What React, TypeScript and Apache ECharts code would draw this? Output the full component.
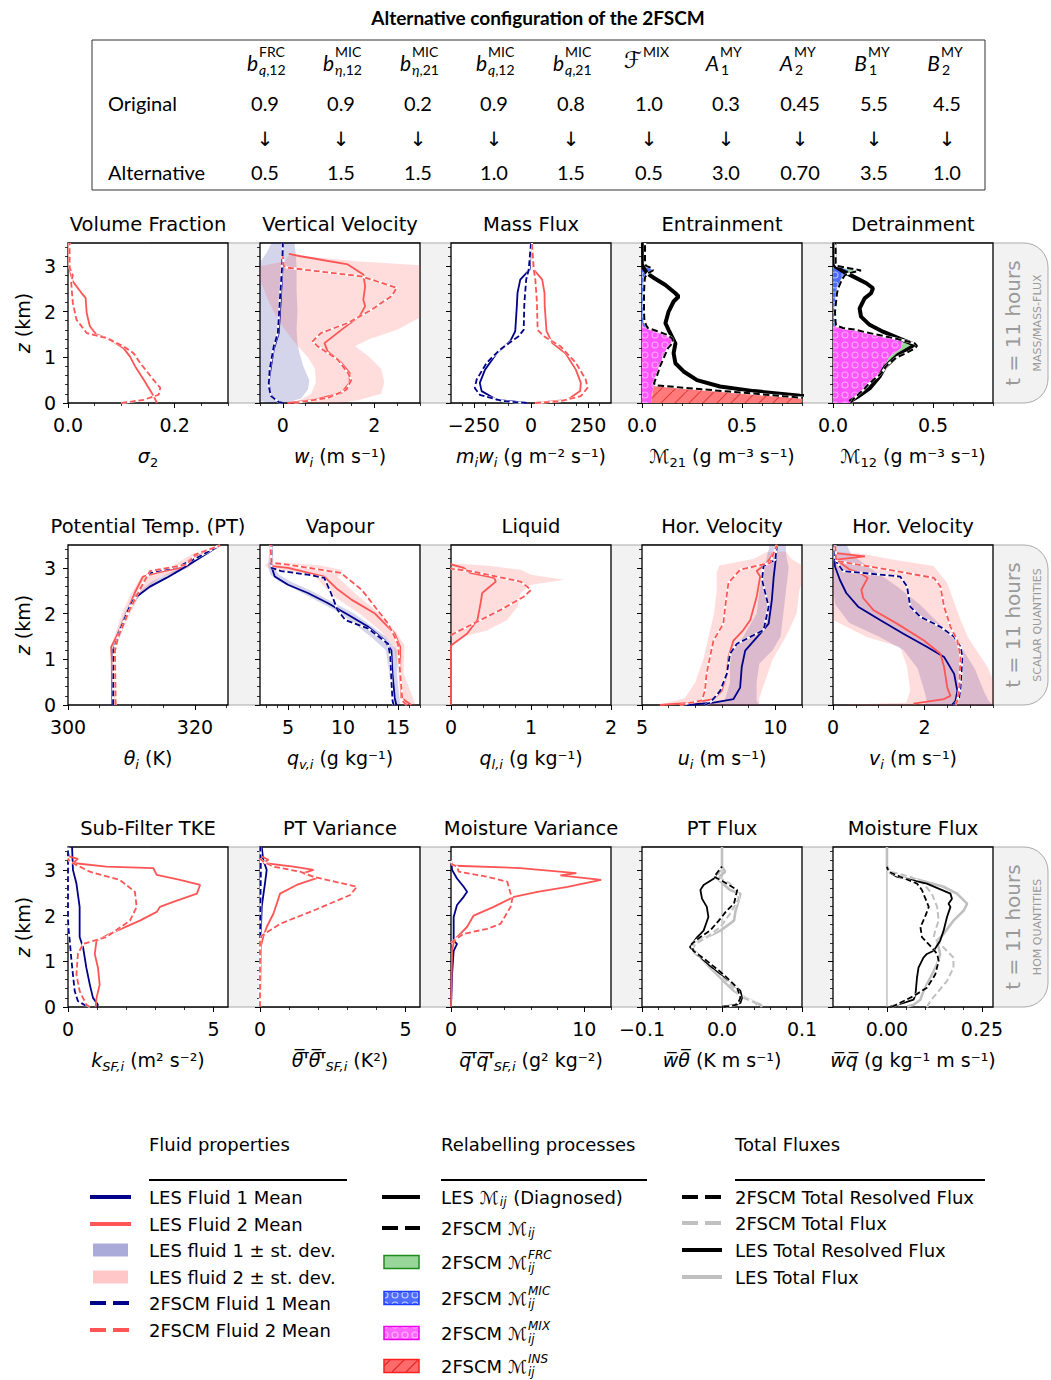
import React, { useEffect, useRef } from 'react';
import * as echarts from 'echarts';

type Pt = [number, number]; // [value, height (km)]
type Band = [number, number, number]; // [height (km), low, high]

const FONT = '"DejaVu Sans", sans-serif';
const LATO = 'Lato, "DejaVu Sans", sans-serif';
const NAVY = '#00008b';
const RED = '#ff5555';
const BAND1 = 'rgba(0, 0, 139, 0.17)';
const BAND2 = 'rgba(255, 85, 85, 0.2)';
const GREY = '#c0c0c0';

// ---------------- parameter table ----------------
const paramBase = ['b', 'b', 'b', 'b', 'b', 'ℱ', 'A', 'A', 'B', 'B'];
const paramSup = ['FRC', 'MIC', 'MIC', 'MIC', 'MIC', 'MIX', 'MY', 'MY', 'MY', 'MY'];
const paramSubVar = ['q', 'η', 'η', 'q', 'q', '', '', '', '', ''];
const paramSubIdx = [',12', ',12', ',21', ',12', ',21', '', '1', '2', '1', '2'];
const originalValues = ['0.9', '0.9', '0.2', '0.9', '0.8', '1.0', '0.3', '0.45', '5.5', '4.5'];
const alternativeValues = ['0.5', '1.5', '1.5', '1.0', '1.5', '0.5', '3.0', '0.70', '3.5', '1.0'];

// ---------------- shared height ticks ----------------
const zTicks = [0, 1, 2, 3];

// ---------------- volume fraction ----------------
const sigmaTicks = [0, 0.2];
const sigma2Les: Pt[] = [[0.167, 0], [0.164, 0.07], [0.157, 0.22], [0.142, 0.51], [0.126, 0.8], [0.116, 1.02], [0.104, 1.2], [0.079, 1.39], [0.053, 1.5], [0.041, 1.68], [0.035, 1.97], [0.033, 2.3], [0.025, 2.41], [0.009, 2.66], [0.003, 2.92], [0.001, 3.43], [0.001, 3.5]];
const sigma2Scm: Pt[] = [[0.1, 0], [0.142, 0.07], [0.17, 0.18], [0.173, 0.33], [0.16, 0.51], [0.135, 0.88], [0.123, 1.09], [0.104, 1.24], [0.072, 1.42], [0.035, 1.53], [0.016, 1.82], [0.009, 2.19], [0.006, 2.63], [0.009, 2.8], [0.003, 2.96], [0.003, 3.43], [0.003, 3.5]];

// ---------------- vertical velocity ----------------
const wTicks = [0, 2];
const wLes1: Pt[] = [[0, 0], [-0.13, 0.04], [-0.27, 0.18], [-0.31, 0.44], [-0.27, 0.73], [-0.2, 1.17], [-0.09, 1.53], [-0.05, 2.19], [-0.01, 2.92], [0, 3.43], [0, 3.5]];
const wScm1: Pt[] = [[0, 0], [-0.09, 0.02], [-0.26, 0.15], [-0.31, 0.37], [-0.29, 0.73], [-0.2, 1.24], [-0.11, 1.53], [-0.07, 2.19], [-0.02, 2.92], [0, 3.43], [0, 3.5]];
const wLes2: Pt[] = [[0.1, 0], [0.69, 0.07], [1.28, 0.22], [1.46, 0.44], [1.46, 0.66], [1.28, 0.88], [0.98, 1.13], [0.91, 1.31], [1.28, 1.6], [1.68, 1.9], [1.8, 2.12], [1.76, 2.26], [1.8, 2.55], [1.76, 2.81], [1.42, 3.03], [0.39, 3.21], [0.13, 3.26]];
const wScm2: Pt[] = [[0.24, 0], [0.98, 0.11], [1.39, 0.29], [1.5, 0.51], [1.42, 0.66], [1.2, 0.95], [0.76, 1.24], [0.65, 1.35], [0.83, 1.53], [1.42, 1.75], [1.94, 2.04], [2.38, 2.34], [2.49, 2.52], [1.72, 2.77], [0.1, 2.96], [0.02, 3.0], [0, 3.21]];
const wBand1: Band[] = [[0, -0.3, 0.05], [0.1, -0.7, 0.4], [0.3, -0.85, 0.55], [0.5, -0.9, 0.58], [0.8, -0.85, 0.45], [1.1, -0.8, 0.36], [1.3, -0.75, 0.32], [1.6, -0.7, 0.3], [2.0, -0.65, 0.32], [2.5, -0.6, 0.3], [3.0, -0.55, 0.3], [3.3, -0.35, 0.28], [3.5, -0.25, 0.25]];
const wBand2: Band[] = [[0, 0.05, 1.2], [0.05, 0.35, 1.6], [0.2, 0.62, 2.15], [0.45, 0.72, 2.22], [0.75, 0.7, 2.15], [1.0, 0.55, 1.9], [1.24, 0.33, 1.58], [1.4, 0.2, 1.9], [1.6, 0.05, 2.5], [1.9, -0.15, 3.05], [2.2, -0.3, 3.5], [2.5, -0.42, 3.6], [2.7, -0.5, 3.6], [2.98, -0.55, 3.6], [3.1, 0.05, 1.6], [3.22, 0.12, 0.4]];

// ---------------- mass flux ----------------
const mfTicks = [-250, 0, 250];
const mfLes1: Pt[] = [[-18, 0], [-150, 0.07], [-216, 0.26], [-224, 0.44], [-201, 0.73], [-150, 1.09], [-91, 1.35], [-69, 1.57], [-62, 2.12], [-59, 2.41], [-47, 2.7], [-6, 2.92], [0, 3.43]];
const mfScm1: Pt[] = [[-18, 0], [-121, 0.04], [-224, 0.18], [-246, 0.33], [-238, 0.51], [-194, 0.88], [-135, 1.17], [-54, 1.46], [-32, 1.6], [-29, 2.19], [-21, 2.7], [-10, 2.92], [0, 3.5]];
const mfLes2: Pt[] = [[19, 0], [159, 0.07], [215, 0.26], [218, 0.44], [196, 0.73], [151, 1.09], [93, 1.31], [68, 1.57], [60, 2.12], [59, 2.41], [49, 2.7], [12, 2.92], [4, 3.43]];
const mfScm2: Pt[] = [[19, 0], [129, 0.04], [218, 0.15], [247, 0.33], [240, 0.51], [196, 0.88], [129, 1.24], [56, 1.46], [29, 1.6], [26, 2.19], [19, 2.7], [12, 2.92], [4, 3.5]];

// ---------------- entrainment (fluid 2 -> 1) ----------------
const mTicks = [0, 0.5];
const entZ = [0, 0.05, 0.1, 0.15, 0.2, 0.25, 0.3, 0.35, 0.39, 0.43, 0.5, 0.6, 0.7, 0.8, 0.9, 1.0, 1.1, 1.2, 1.3, 1.35, 1.42, 1.5, 1.58, 1.64, 1.68, 1.8, 2.0, 2.2, 2.4, 2.6, 2.75, 2.84, 2.9, 2.95, 3.0, 3.05, 3.1, 3.3, 3.5];
const entMix = [0.045, 0.047, 0.05, 0.051, 0.052, 0.053, 0.055, 0.057, 0.058, 0.06, 0.066, 0.075, 0.083, 0.09, 0.1, 0.11, 0.12, 0.13, 0.15, 0.155, 0.15, 0.12, 0.07, 0.02, 0.005, 0, 0, 0, 0, 0, 0, 0, 0, 0, 0, 0.01, 0.015, 0.015, 0.015];
const entIns = [1.07, 0.93, 0.79, 0.655, 0.52, 0.383, 0.246, 0.11, 0.008, 0, 0, 0, 0, 0, 0, 0, 0, 0, 0, 0, 0, 0, 0, 0, 0, 0, 0, 0, 0, 0, 0, 0, 0, 0, 0, 0, 0, 0, 0];
const entMic = [0, 0, 0, 0, 0, 0, 0, 0, 0, 0, 0, 0, 0, 0, 0, 0, 0, 0, 0, 0, 0, 0, 0, 0.01, 0.018, 0.012, 0.01, 0.01, 0.01, 0.012, 0.015, 0.03, 0.055, 0.05, 0.02, 0.005, 0, 0, 0];
const entFrc = entZ.map(() => 0);
const entLes: Pt[] = [[1.6, 0], [1.2, 0.06], [0.79, 0.16], [0.56, 0.26], [0.39, 0.36], [0.275, 0.5], [0.208, 0.69], [0.167, 0.87], [0.158, 1.09], [0.167, 1.3], [0.133, 1.6], [0.117, 1.745], [0.133, 2.0], [0.158, 2.22], [0.183, 2.33], [0.167, 2.4], [0.117, 2.58], [0.058, 2.74], [0.025, 2.84], [0.008, 2.95], [0.005, 3.46], [0.005, 3.5]];

// ---------------- detrainment (fluid 1 -> 2) ----------------
const detZ = [0, 0.05, 0.1, 0.2, 0.3, 0.4, 0.5, 0.6, 0.7, 0.8, 0.85, 0.9, 1.0, 1.1, 1.2, 1.25, 1.3, 1.35, 1.45, 1.55, 1.6, 1.64, 1.7, 1.8, 2.0, 2.2, 2.4, 2.5, 2.6, 2.7, 2.8, 2.85, 2.9, 2.95, 3.0, 3.05, 3.1, 3.3, 3.5];
const detMix = [0.09, 0.097, 0.105, 0.13, 0.155, 0.175, 0.2, 0.23, 0.25, 0.26, 0.26, 0.27, 0.28, 0.31, 0.34, 0.34, 0.35, 0.34, 0.27, 0.16, 0.117, 0.04, 0, 0, 0, 0, 0, 0, 0, 0, 0, 0, 0, 0, 0, 0, 0, 0, 0];
const detIns = detZ.map(() => 0);
const detMic = [0, 0, 0, 0, 0, 0, 0, 0, 0, 0, 0, 0, 0, 0, 0, 0, 0, 0, 0, 0, 0, 0.01, 0.015, 0.012, 0.01, 0.015, 0.02, 0.025, 0.035, 0.045, 0.06, 0.07, 0.08, 0.05, 0.02, 0.013, 0.013, 0.013, 0.013];
const detFrc = [0, 0, 0, 0, 0, 0, 0, 0, 0, 0.005, 0.015, 0.02, 0.04, 0.06, 0.07, 0.08, 0.06, 0.03, 0, 0, 0, 0, 0, 0, 0, 0, 0, 0, 0, 0, 0, 0.02, 0.06, 0.03, 0, 0, 0, 0, 0];
const detLes: Pt[] = [[0.083, 0.03], [0.125, 0.14], [0.183, 0.32], [0.233, 0.58], [0.26, 0.79], [0.325, 1.05], [0.383, 1.2], [0.41, 1.27], [0.333, 1.41], [0.25, 1.56], [0.183, 1.71], [0.14, 1.89], [0.133, 2.07], [0.158, 2.29], [0.19, 2.4], [0.2, 2.51], [0.167, 2.62], [0.1, 2.77], [0.05, 2.88], [0.01, 2.99], [0.008, 3.46], [0.008, 3.5]];

// ---------------- potential temperature ----------------
const thTicks = [300, 320];
const thLes1: Pt[] = [[307.0, 0], [307.0, 0.68], [307.1, 1.19], [307.9, 1.49], [309.2, 2.0], [310.8, 2.37], [312.9, 2.59], [315.5, 2.78], [318.2, 3.0], [320.8, 3.22], [323.9, 3.49]];
const thLes2: Pt[] = [[307.3, 0], [307.1, 0.6], [306.8, 1.27], [307.6, 1.49], [309.2, 2.0], [310.5, 2.45], [311.8, 2.81], [313.9, 2.89], [317.6, 3.0], [320.0, 3.26], [323.9, 3.49]];
const thScm1: Pt[] = [[307.1, 0], [307.2, 1.19], [308.2, 1.64], [309.7, 2.15], [311.3, 2.52], [312.4, 2.81], [312.9, 2.89], [317.6, 3.04], [320.3, 3.22], [323.9, 3.49]];
const thScm2: Pt[] = [[307.5, 0], [307.4, 1.19], [307.9, 1.49], [309.7, 2.08], [311.3, 2.52], [312.9, 2.93], [318.7, 3.07], [320.0, 3.29], [323.9, 3.49]];
const thBand1: Band[] = [[0, 306.85, 307.15], [1.2, 306.9, 307.3], [1.5, 307.6, 308.2], [2.0, 308.9, 309.5], [2.4, 310.5, 311.3], [2.7, 313.2, 314.6], [3.0, 317.6, 318.8], [3.3, 321.0, 321.8], [3.5, 323.6, 324.2]];
const thBand2: Band[] = [[0, 306.9, 307.7], [1.2, 306.6, 307.4], [1.5, 307.3, 308.2], [2.0, 308.5, 309.8], [2.4, 309.8, 311.3], [2.8, 311.5, 314.5], [3.0, 316.0, 319.0], [3.3, 319.5, 321.0], [3.5, 323.5, 324.3]];

// ---------------- vapour ----------------
const qvTicks = [5, 10, 15];
const qvLes1: Pt[] = [[14.85, 0], [14.7, 0.16], [14.5, 0.68], [14.4, 1.19], [13.8, 1.41], [12.3, 1.71], [10.5, 1.97], [8.6, 2.23], [6.8, 2.45], [5.0, 2.63], [3.79, 2.81], [3.48, 3.04], [3.48, 3.5]];
const qvScm1: Pt[] = [[14.6, 0], [14.5, 0.1], [14.4, 0.53], [14.3, 1.05], [14.1, 1.34], [12.3, 1.67], [10.2, 1.86], [9.5, 2.08], [8.9, 2.45], [8.3, 2.78], [6.8, 2.85], [4.4, 2.93], [3.48, 3.0], [3.48, 3.5]];
const qvLes2: Pt[] = [[16.2, 0], [15.3, 0.16], [15.2, 0.68], [15.2, 1.27], [14.7, 1.56], [12.9, 2.0], [10.8, 2.3], [9.5, 2.53], [8.3, 2.81], [5.0, 3.0], [3.5, 3.04], [3.4, 3.5]];
const qvScm2: Pt[] = [[15.8, 0], [15.4, 0.09], [15.2, 0.68], [15.0, 1.34], [14.1, 1.78], [12.9, 2.15], [11.7, 2.52], [9.8, 2.89], [5.0, 3.07], [3.5, 3.11], [3.4, 3.5]];
const qvBand1: Band[] = [[0, 14.6, 15.2], [0.7, 14.2, 14.9], [1.2, 13.9, 14.9], [1.5, 12.5, 13.9], [2.0, 9.8, 11.0], [2.5, 5.9, 7.1], [2.7, 4.2, 5.2], [2.85, 3.4, 4.2], [3.0, 3.2, 3.7], [3.5, 3.3, 3.6]];
const qvBand2: Band[] = [[0, 15.6, 16.6], [0.7, 15.0, 15.5], [1.3, 14.6, 15.6], [1.6, 13.5, 14.8], [2.0, 11.5, 13.3], [2.4, 9.0, 11.3], [2.8, 7.5, 9.5], [2.95, 3.5, 10.0], [3.05, 2.9, 8.0], [3.12, 3.2, 4.5]];

// ---------------- liquid ----------------
const qlTicks = [0, 1, 2];
const qlLes2: Pt[] = [[0, 0], [0, 1.3], [0.03, 1.34], [0.2, 1.56], [0.33, 1.86], [0.37, 2.23], [0.39, 2.45], [0.56, 2.7], [0.54, 2.78], [0.24, 2.89], [0.16, 3.0], [0.01, 3.07], [0, 3.1]];
const qlScm2: Pt[] = [[0, 1.52], [0.03, 1.56], [0.28, 1.78], [0.62, 2.08], [0.91, 2.37], [1.0, 2.52], [0.87, 2.7], [0.24, 2.93], [0.01, 2.98], [0, 3.0]];
const qlBand2: Band[] = [[1.34, 0, 0.02], [1.5, 0, 0.15], [1.63, 0, 0.45], [1.86, 0, 0.7], [2.15, 0, 0.83], [2.45, 0, 0.87], [2.63, 0, 1.0], [2.74, 0, 1.42], [2.85, 0, 1.0], [2.96, 0, 0.87], [3.04, 0, 0.5], [3.1, 0, 0.02]];

// ---------------- horizontal velocity u ----------------
const uTicks = [5, 10];
const uLes1: Pt[] = [[6.67, 0], [7.68, 0.05], [8.43, 0.13], [8.68, 0.38], [8.74, 0.83], [8.87, 1.19], [9.43, 1.56], [9.75, 1.78], [9.87, 2.3], [9.94, 2.81], [10.0, 3.11], [10.06, 3.5]];
const uScm1: Pt[] = [[7.36, 0], [7.55, 0.05], [7.93, 0.31], [8.18, 0.68], [8.3, 1.12], [8.56, 1.34], [9.06, 1.49], [9.56, 1.64], [9.75, 2.15], [9.5, 2.74], [9.56, 3.04], [10.0, 3.18], [10.06, 3.5]];
const uLes2: Pt[] = [[5.67, 0], [6.92, 0.05], [7.68, 0.13], [7.99, 0.31], [8.18, 0.68], [8.24, 1.05], [8.43, 1.41], [8.8, 1.64], [9.06, 1.86], [9.3, 2.37], [9.43, 2.81], [9.3, 2.93], [9.69, 3.11], [9.94, 3.33], [10.06, 3.5]];
const uScm2: Pt[] = [[6.42, 0], [7.24, 0.1], [7.36, 0.31], [7.42, 0.68], [7.55, 1.05], [7.68, 1.41], [8.05, 1.78], [8.12, 2.15], [8.24, 2.67], [8.68, 2.96], [9.81, 3.11], [9.94, 3.33], [10.06, 3.5]];
const uBand1: Band[] = [[0, 7.2, 9.4], [0.1, 8.1, 9.3], [0.5, 8.3, 9.3], [0.9, 8.3, 9.4], [1.2, 8.4, 9.9], [1.5, 8.8, 10.2], [2.0, 9.3, 10.3], [2.5, 9.4, 10.4], [3.0, 9.6, 10.5], [3.3, 9.7, 10.4], [3.5, 9.8, 10.4]];
const uBand2: Band[] = [[0, 5.6, 9.4], [0.15, 6.6, 9.4], [0.5, 7.0, 9.6], [1.0, 7.3, 9.9], [1.5, 7.5, 10.4], [2.0, 7.7, 10.8], [2.5, 7.8, 10.9], [2.9, 7.8, 11.1], [3.05, 7.9, 11.0], [3.2, 9.2, 10.6], [3.35, 9.7, 10.4]];

// ---------------- horizontal velocity v ----------------
const vTicks = [0, 2];
const vLes1: Pt[] = [[2.61, 0.01], [2.68, 0.09], [2.72, 0.31], [2.65, 0.68], [2.43, 1.05], [2.06, 1.27], [1.54, 1.56], [1.03, 1.86], [0.55, 2.15], [0.29, 2.45], [0.15, 2.74], [0.04, 3.04], [0.04, 3.5]];
const vLes2: Pt[] = [[1.76, 0.03], [2.43, 0.13], [2.57, 0.2], [2.5, 0.38], [2.43, 0.83], [2.35, 1.12], [1.99, 1.41], [1.4, 1.78], [0.88, 2.08], [0.66, 2.34], [0.62, 2.52], [0.76, 2.78], [0.6, 2.88], [0.37, 2.96], [0.07, 3.18], [0.7, 3.25], [0.05, 3.32]];
const vScm1: Pt[] = [[2.65, 0], [2.76, 0.16], [2.79, 0.38], [2.83, 1.05], [2.79, 1.27], [2.65, 1.49], [2.35, 1.71], [1.91, 1.93], [1.69, 2.15], [1.62, 2.59], [1.47, 2.81], [0.22, 2.93], [0.04, 3.18], [0.03, 3.5]];
const vScm2: Pt[] = [[2.68, 0], [2.72, 0.09], [2.76, 0.38], [2.79, 1.05], [2.72, 1.41], [2.57, 1.71], [2.43, 2.15], [2.35, 2.59], [2.21, 2.78], [0.74, 3.04], [0.07, 3.15], [0.05, 3.5]];
const vBand1: Band[] = [[0, 2.0, 3.5], [0.1, 2.05, 3.4], [0.3, 2.0, 3.3], [0.8, 1.85, 3.1], [1.2, 1.55, 2.85], [1.5, 1.0, 2.6], [1.8, 0.35, 2.3], [2.2, 0.05, 1.9], [2.6, 0, 1.4], [3.0, 0, 0.8], [3.3, 0, 0.4], [3.5, 0, 0.3]];
const vBand2: Band[] = [[0, 0, 3.6], [0.05, 1.6, 3.6], [0.31, 1.69, 3.6], [0.83, 1.62, 3.38], [1.27, 1.47, 3.09], [1.49, 0.74, 2.95], [1.86, 0, 2.79], [2.67, 0, 2.5], [3.04, 0, 2.2], [3.2, 0, 1.2], [3.3, 0, 0.7], [3.35, 0, 0.1]];

// ---------------- sub-filter TKE ----------------
const tkeTicks = [0, 5];
const tkeLes1: Pt[] = [[0.98, 0], [1.03, 0.05], [0.86, 0.2], [0.75, 0.49], [0.63, 0.86], [0.52, 1.3], [0.4, 1.53], [0.4, 2.19], [0.29, 2.7], [0.17, 3.0], [0.14, 3.5]];
const tkeScm1: Pt[] = [[0.63, 0.02], [0.34, 0.13], [0.23, 0.35], [0.17, 0.71], [0.11, 1.08], [0.06, 1.45], [0.02, 1.7], [0, 1.9], [0, 3.5]];
const tkeLes2: Pt[] = [[0.95, 0], [0.98, 0.2], [1.09, 0.49], [1.03, 0.86], [0.92, 1.16], [0.98, 1.45], [1.44, 1.6], [2.47, 1.89], [3.05, 2.08], [3.16, 2.19], [3.62, 2.3], [4.43, 2.48], [4.54, 2.67], [3.85, 2.78], [3.05, 2.89], [2.93, 3.04], [1.32, 3.07], [0.17, 3.15], [0.34, 3.24], [0.06, 3.29], [0.02, 3.35]];
const tkeScm2: Pt[] = [[0.75, 0], [0.63, 0.05], [0.4, 0.35], [0.29, 0.71], [0.34, 1.16], [0.52, 1.38], [1.32, 1.53], [2.13, 1.89], [2.36, 2.19], [2.3, 2.52], [1.78, 2.78], [0.75, 2.96], [0.06, 3.18], [0, 3.25]];

// ---------------- PT variance ----------------
const tvTicks = [0, 5];
const tvLes1: Pt[] = [[0, 0], [0.02, 1.5], [0.06, 2.2], [0.17, 2.7], [0.23, 3.0], [0.11, 3.22], [0.06, 3.5]];
const tvScm1: Pt[] = [[0, 0], [0.01, 2.0], [0.03, 3.0], [0.01, 3.5]];
const tvLes2: Pt[] = [[0, 0], [0.02, 1.3], [0.11, 1.53], [0.23, 1.75], [0.46, 2.04], [0.69, 2.48], [1.26, 2.67], [1.95, 2.82], [1.49, 2.93], [1.84, 3.0], [1.15, 3.07], [0.11, 3.15], [0.29, 3.22], [0.06, 3.29], [0.02, 3.32]];
const tvScm2: Pt[] = [[0, 0], [0, 1.45], [0.06, 1.56], [0.69, 1.82], [1.84, 2.11], [3.1, 2.45], [3.33, 2.63], [1.84, 2.85], [1.38, 2.96], [0.46, 3.07], [0.11, 3.18], [0, 3.25]];

// ---------------- moisture variance ----------------
const mvTicks = [0, 10];
const mvLes1: Pt[] = [[0, 0], [0.08, 0.71], [0.2, 1.23], [0.45, 1.38], [0.2, 1.45], [0.2, 1.67], [0.2, 1.97], [0.45, 2.23], [0.95, 2.41], [1.21, 2.52], [0.95, 2.63], [0.45, 2.81], [0.08, 3.0], [0.02, 3.2]];
const mvLes2: Pt[] = [[0, 0], [0.08, 1.23], [0.2, 1.4], [0.45, 1.53], [1.2, 1.75], [1.7, 2.0], [3.2, 2.19], [4.72, 2.41], [6.48, 2.52], [8.74, 2.63], [11.26, 2.78], [8.2, 2.88], [9.4, 2.93], [5.2, 3.04], [0.3, 3.09], [0.08, 3.11], [0, 3.2]];
const mvScm2: Pt[] = [[0, 1.4], [0.2, 1.45], [0.95, 1.6], [2.71, 1.71], [3.72, 1.82], [4.47, 2.19], [4.6, 2.37], [4.47, 2.48], [4.22, 2.74], [2.71, 2.85], [0.58, 2.96], [0.45, 3.07], [0.08, 3.12], [0, 3.2]];

// ---------------- PT flux ----------------
const wtTicks = [-0.1, 0, 0.1];
const fluxZero: Pt[] = [[0, 0], [0, 3.5]];
const wtLesTot: Pt[] = [[0.05, 0], [0.048, 0.05], [0.029, 0.2], [0.015, 0.35], [0.002, 0.57], [-0.015, 0.86], [-0.031, 1.16], [-0.04, 1.31], [-0.031, 1.45], [-0.019, 1.53], [-0.002, 1.67], [0.015, 1.89], [0.017, 2.11], [0.021, 2.34], [0.023, 2.48], [0.01, 2.56], [-0.006, 2.81], [0.004, 2.96], [0, 3.07], [0, 3.5]];
const wtScmTot: Pt[] = [[0.044, 0.05], [0.04, 0.11], [0.027, 0.2], [0.015, 0.42], [-0.002, 0.71], [-0.023, 1.01], [-0.038, 1.23], [-0.033, 1.38], [-0.019, 1.53], [-0.002, 1.75], [0.01, 2.04], [0.021, 2.37], [0.019, 2.52], [0.01, 2.7], [-0.006, 2.85], [0, 3.07]];
const wtLesRes: Pt[] = [[0, 0.01], [0.015, 0.04], [0.023, 0.09], [0.025, 0.2], [0.023, 0.35], [0.01, 0.57], [-0.015, 0.9], [-0.031, 1.16], [-0.04, 1.31], [-0.031, 1.53], [-0.023, 1.67], [-0.017, 1.97], [-0.019, 2.19], [-0.025, 2.37], [-0.027, 2.56], [-0.023, 2.67], [-0.01, 2.81], [-0.006, 2.93], [0, 3.07]];
const wtScmRes: Pt[] = [[0.002, 0], [0.019, 0.05], [0.023, 0.2], [0.019, 0.42], [0.002, 0.71], [-0.019, 1.01], [-0.036, 1.23], [-0.038, 1.38], [-0.027, 1.53], [-0.015, 1.67], [-0.004, 1.89], [0.006, 2.11], [0.015, 2.26], [0.019, 2.56], [0.002, 2.74], [-0.01, 2.85], [0, 3.07]];

// ---------------- moisture flux ----------------
const wqTicks = [0, 0.25];
const wqLesRes: Pt[] = [[0.009, 0.01], [0.044, 0.09], [0.07, 0.16], [0.075, 0.27], [0.079, 0.64], [0.083, 0.86], [0.096, 1.08], [0.105, 1.16], [0.123, 1.23], [0.14, 1.45], [0.149, 1.67], [0.158, 1.97], [0.167, 2.19], [0.162, 2.26], [0.171, 2.37], [0.167, 2.48], [0.105, 2.7], [0.026, 2.85], [0.004, 2.96], [0, 3.07]];
const wqLesTot: Pt[] = [[0.053, 0.01], [0.07, 0.05], [0.088, 0.16], [0.096, 0.35], [0.114, 0.64], [0.132, 0.94], [0.14, 1.16], [0.132, 1.45], [0.149, 1.6], [0.175, 1.89], [0.202, 2.11], [0.211, 2.26], [0.184, 2.48], [0.149, 2.63], [0.07, 2.81], [0.013, 2.92], [0, 3.07], [0, 3.5]];
const wqScmRes: Pt[] = [[0.013, 0], [0.044, 0.13], [0.07, 0.24], [0.105, 0.42], [0.127, 0.71], [0.136, 1.01], [0.132, 1.16], [0.118, 1.3], [0.092, 1.53], [0.088, 1.75], [0.1, 1.97], [0.11, 2.19], [0.092, 2.56], [0.079, 2.7], [0.035, 2.85], [0.004, 2.96], [0, 3.07]];
const wqScmTot: Pt[] = [[0.105, 0], [0.114, 0.13], [0.132, 0.31], [0.158, 0.57], [0.175, 0.86], [0.175, 1.08], [0.149, 1.3], [0.123, 1.53], [0.127, 1.67], [0.136, 1.89], [0.132, 2.19], [0.118, 2.48], [0.096, 2.7], [0.061, 2.85], [0.009, 2.96], [0, 3.07]];

// ---------------- panel layout ----------------
const COLS = [68, 260, 451, 642, 833];
const ROWS = [243, 545, 847];
const PW = 160;
const PH = 160;
const Z_MAX = 3.5;

const OV = '\u0305';
const panels = [
  { title: 'Volume Fraction', min: 0, max: 0.3, major: sigmaTicks, step: 0.05, dec: 1, name: '{it|σ}{sub|2}' },
  { title: 'Vertical Velocity', min: -0.5, max: 3, major: wTicks, step: 0.5, dec: 0, name: '{it|w}{subi|i}{n| (m s⁻¹)}' },
  { title: 'Mass Flux', min: -350, max: 350, major: mfTicks, step: 100, dec: 0, name: '{it|m}{subi|i}{it|w}{subi|i}{n| (g m⁻² s⁻¹)}' },
  { title: 'Entrainment', min: 0, max: 0.8, major: mTicks, step: 0.1, dec: 1, name: '{n|ℳ}{sub|21}{n| (g m⁻³ s⁻¹)}' },
  { title: 'Detrainment', min: 0, max: 0.8, major: mTicks, step: 0.1, dec: 1, name: '{n|ℳ}{sub|12}{n| (g m⁻³ s⁻¹)}' },
  { title: 'Potential Temp. (PT)', min: 300, max: 325.2, major: thTicks, step: 5, dec: 0, name: '{it|θ}{subi|i}{n| (K)}' },
  { title: 'Vapour', min: 2.45, max: 17, major: qvTicks, step: 1, dec: 0, name: '{it|q}{subi|v,i}{n| (g kg⁻¹)}' },
  { title: 'Liquid', min: 0, max: 2, major: qlTicks, step: 0.2, dec: 0, name: '{it|q}{subi|l,i}{n| (g kg⁻¹)}' },
  { title: 'Hor. Velocity', min: 5, max: 11, major: uTicks, step: 1, dec: 0, name: '{it|u}{subi|i}{n| (m s⁻¹)}' },
  { title: 'Hor. Velocity', min: 0, max: 3.5, major: vTicks, step: 0.5, dec: 0, name: '{it|v}{subi|i}{n| (m s⁻¹)}' },
  { title: 'Sub-Filter TKE', min: 0, max: 5.5, major: tkeTicks, step: 1, dec: 0, name: '{it|k}{subi|SF,i}{n| (m² s⁻²)}' },
  { title: 'PT Variance', min: 0, max: 5.5, major: tvTicks, step: 1, dec: 0, name: `{it|θ${OV}'${OV}θ${OV}'${OV}}{subi|SF,i}{n| (K²)}` },
  { title: 'Moisture Variance', min: 0, max: 12, major: mvTicks, step: 2, dec: 0, name: `{it|q${OV}'${OV}q${OV}'${OV}}{subi|SF,i}{n| (g² kg⁻²)}` },
  { title: 'PT Flux', min: -0.1, max: 0.1, major: wtTicks, step: 0.02, dec: 1, name: `{it|w${OV}θ${OV}}{n| (K m s⁻¹)}` },
  { title: 'Moisture Flux', min: -0.142, max: 0.279, major: wqTicks, step: 0.05, dec: 2, name: `{it|w${OV}q${OV}}{n| (g kg⁻¹ m s⁻¹)}` },
];
const rowTags = ['MASS/MASS-FLUX', 'SCALAR QUANTITIES', 'HOM QUANTITIES'];

function minorTicks(min: number, max: number, step: number, major: number[]): number[] {
  const out: number[] = [];
  const start = Math.ceil(min / step - 1e-9);
  const end = Math.floor(max / step + 1e-9);
  for (let k = start; k <= end; k++) {
    const v = parseFloat((k * step).toFixed(6));
    if (!major.some((m) => Math.abs(m - v) < step * 1e-3)) out.push(v);
  }
  return out;
}

const richName = {
  n: { fontSize: 19, fontFamily: FONT, color: '#000', lineHeight: 26 },
  it: { fontSize: 19, fontFamily: FONT, fontStyle: 'italic', color: '#000', lineHeight: 26 },
  sub: { fontSize: 13, fontFamily: FONT, color: '#000', verticalAlign: 'bottom', lineHeight: 12 },
  subi: { fontSize: 13, fontFamily: FONT, fontStyle: 'italic', color: '#000', verticalAlign: 'bottom', lineHeight: 12 },
};

function makePattern(bg: string, fg: string, kind: 'circle' | 'hatch') {
  const size = kind === 'hatch' ? 14 : 10;
  const c = document.createElement('canvas');
  c.width = size;
  c.height = size;
  const ctx = c.getContext('2d') as CanvasRenderingContext2D;
  ctx.fillStyle = bg;
  ctx.fillRect(0, 0, size, size);
  ctx.strokeStyle = fg;
  ctx.lineWidth = 1.1;
  if (kind === 'circle') {
    ctx.beginPath();
    ctx.arc(size / 2, size / 2, 3, 0, Math.PI * 2);
    ctx.stroke();
  } else {
    ctx.beginPath();
    ctx.moveTo(-1, size + 1);
    ctx.lineTo(size + 1, -1);
    ctx.stroke();
  }
  return { image: c, repeat: 'repeat', imageWidth: size, imageHeight: size };
}

function lineSeries(gi: number, data: Pt[], color: string, width: number, dashed = false, z = 10): any[] {
  const base = {
    type: 'line', xAxisIndex: gi * 2, yAxisIndex: gi * 2, data, symbol: 'none', showSymbol: false,
    silent: true, clip: true, smooth: false,
  };
  const out: any[] = [];
  if (dashed) out.push({ ...base, z, lineStyle: { color: '#ffffff', width: width + 0.4 } });
  out.push({
    ...base, z: z + 1,
    lineStyle: { color, width, type: dashed ? [width * 3.2, width * 1.6] : 'solid', cap: 'butt' },
  });
  return out;
}

function bandSeries(gi: number, rows: Band[], fill: any, z = 2): any {
  return {
    type: 'custom', xAxisIndex: gi * 2, yAxisIndex: gi * 2, silent: true, clip: true, z,
    data: rows.map((r) => [r[1], r[0], r[2]]),
    encode: { x: [0, 2], y: 1 },
    renderItem: (params: any, api: any) => {
      if (params.dataIndex !== 0) return null;
      const pts: number[][] = [];
      rows.forEach((r) => pts.push(api.coord([r[1], r[0]])));
      for (let i = rows.length - 1; i >= 0; i--) pts.push(api.coord([rows[i][2], rows[i][0]]));
      return { type: 'polygon', shape: { points: pts }, style: { fill, stroke: null } };
    },
  };
}

// Cumulative left/right edges of stacked relabelling contributions
function stackedBands(z: number[], comps: number[][]): Band[][] {
  const acc = z.map(() => 0);
  return comps.map((comp) => {
    const rows: Band[] = z.map((h, i) => [h, acc[i], acc[i] + comp[i]]);
    comp.forEach((v, i) => { acc[i] += v; });
    return rows;
  });
}

function relabelling(gi: number, z: number[], mix: number[], ins: number[], mic: number[], frc: number[], les: Pt[], fills: any[]): any[] {
  const comps = [mix, ins, mic, frc];
  const bands = stackedBands(z, comps);
  const total: Pt[] = z.map((h, i) => [mix[i] + ins[i] + mic[i] + frc[i], h]);
  const out: any[] = [];
  bands.forEach((b, k) => {
    if (comps[k].some((v) => v > 0)) out.push(bandSeries(gi, b, fills[k], 3));
  });
  out.push(...lineSeries(gi, les, '#000', 4, false, 10));
  out.push(...lineSeries(gi, total, '#000', 2, true, 12));
  return out;
}

function buildOption() {
  const pInsPlot = makePattern('#ff7b7b', '#e23a3a', 'hatch');
  const pMixPlot = makePattern('#ff55ff', '#ffa8ff', 'circle');
  const pMicPlot = makePattern('#4e6cff', '#a9b8ff', 'circle');
  const frcFill = '#96d696';
  const plotFills = [pMixPlot, pInsPlot, pMicPlot, frcFill];

  const grids: any[] = [];
  const xAxes: any[] = [];
  const yAxes: any[] = [];
  const zMinor = minorTicks(0, Z_MAX, 0.2, zTicks);

  panels.forEach((p, gi) => {
    const r = Math.floor(gi / 5);
    const c = gi % 5;
    grids.push({
      left: COLS[c], top: ROWS[r], width: PW, height: PH, show: true, backgroundColor: '#ffffff',
      borderColor: '#000', borderWidth: 1.3, containLabel: false, outerBoundsMode: 'none',
    });
    const fmt = (v: number) => (Math.abs(v) < 1e-12 ? 0 : v).toFixed(p.dec).replace('-', '−');
    xAxes.push({
      type: 'value', gridIndex: gi, min: p.min, max: p.max, position: 'bottom',
      axisLine: { show: false, onZero: false },
      axisTick: { show: true, length: 5, customValues: p.major, lineStyle: { color: '#000', width: 1 } },
      axisLabel: { show: true, customValues: p.major, formatter: fmt, fontSize: 19, fontFamily: FONT, color: '#000', margin: 12, hideOverlap: false },
      splitLine: { show: false },
      name: p.name, nameLocation: 'middle', nameGap: 40,
      nameTextStyle: { fontSize: 19, fontFamily: FONT, color: '#000', lineHeight: 26, rich: richName },
    });
    xAxes.push({
      type: 'value', gridIndex: gi, min: p.min, max: p.max, position: 'bottom',
      axisLine: { show: false, onZero: false },
      axisTick: { show: true, length: 3, customValues: minorTicks(p.min, p.max, p.step, p.major), lineStyle: { color: '#000', width: 0.8 } },
      axisLabel: { show: false }, splitLine: { show: false },
    });
    yAxes.push({
      type: 'value', gridIndex: gi, min: 0, max: Z_MAX, position: 'left',
      axisLine: { show: false, onZero: false },
      axisTick: { show: true, length: 5, customValues: zTicks, lineStyle: { color: '#000', width: 1 } },
      axisLabel: { show: c === 0, customValues: zTicks, fontSize: 19, fontFamily: FONT, color: '#000', margin: 12 },
      splitLine: { show: false },
      name: c === 0 ? '{it|z}{n| (km)}' : '', nameLocation: 'middle', nameGap: 32, nameRotate: 90,
      nameTextStyle: { fontSize: 19, fontFamily: FONT, color: '#000', rich: richName },
    });
    yAxes.push({
      type: 'value', gridIndex: gi, min: 0, max: Z_MAX, position: 'left',
      axisLine: { show: false, onZero: false },
      axisTick: { show: true, length: 3, customValues: zMinor, lineStyle: { color: '#000', width: 0.8 } },
      axisLabel: { show: false }, splitLine: { show: false },
    });
  });

  const LW = 1.8;
  const fluidPanel = (gi: number, les1: Pt[] | null, scm1: Pt[] | null, les2: Pt[] | null, scm2: Pt[] | null, b1?: Band[], b2?: Band[]) => {
    const s: any[] = [];
    if (b1) s.push(bandSeries(gi, b1, BAND1, 2));
    if (b2) s.push(bandSeries(gi, b2, BAND2, 3));
    if (les1) s.push(...lineSeries(gi, les1, NAVY, LW, false, 10));
    if (les2) s.push(...lineSeries(gi, les2, RED, LW, false, 12));
    if (scm1) s.push(...lineSeries(gi, scm1, NAVY, LW, true, 14));
    if (scm2) s.push(...lineSeries(gi, scm2, RED, LW, true, 16));
    return s;
  };
  // totals underneath, resolved fluxes on top
  const fluxPanel = (gi: number, lesTot: Pt[], scmTot: Pt[], lesRes: Pt[], scmRes: Pt[]) => [
    ...lineSeries(gi, fluxZero, '#a0a0a0', 1, false, 8),
    ...lineSeries(gi, lesTot, GREY, 2.6, false, 10),
    ...lineSeries(gi, scmTot, GREY, 2, true, 12),
    ...lineSeries(gi, lesRes, '#000', 1.8, false, 14),
    ...lineSeries(gi, scmRes, '#000', 1.8, true, 16),
  ];

  const series: any[] = [
    ...fluidPanel(0, null, null, sigma2Les, sigma2Scm),
    ...fluidPanel(1, wLes1, wScm1, wLes2, wScm2, wBand1, wBand2),
    ...fluidPanel(2, mfLes1, mfScm1, mfLes2, mfScm2),
    ...relabelling(3, entZ, entMix, entIns, entMic, entFrc, entLes, plotFills),
    ...relabelling(4, detZ, detMix, detIns, detMic, detFrc, detLes, plotFills),
    ...fluidPanel(5, thLes1, thScm1, thLes2, thScm2, thBand1, thBand2),
    ...fluidPanel(6, qvLes1, qvScm1, qvLes2, qvScm2, qvBand1, qvBand2),
    ...fluidPanel(7, null, null, qlLes2, qlScm2, undefined, qlBand2),
    ...fluidPanel(8, uLes1, uScm1, uLes2, uScm2, uBand1, uBand2),
    ...fluidPanel(9, vLes1, vScm1, vLes2, vScm2, vBand1, vBand2),
    ...fluidPanel(10, tkeLes1, tkeScm1, tkeLes2, tkeScm2),
    ...fluidPanel(11, tvLes1, tvScm1, tvLes2, tvScm2),
    ...fluidPanel(12, mvLes1, null, mvLes2, mvScm2),
    ...fluxPanel(13, wtLesTot, wtScmTot, wtLesRes, wtScmRes),
    ...fluxPanel(14, wqLesTot, wqScmTot, wqLesRes, wqScmRes),
  ];

  // ---------------- graphic decorations ----------------
  const el: any[] = [];
  const text = (x: number, y: number, t: string, font: string, extra: any = {}) => {
    el.push({
      type: 'text', x, y, z: 100, silent: true,
      style: { text: t, font, fill: '#000', align: 'left', verticalAlign: 'middle', textAlign: 'left', textVerticalAlign: 'middle', ...extra },
    });
  };

  const measure = document.createElement('canvas').getContext('2d') as CanvasRenderingContext2D;
  const widthOf = (s: string, font: string) => { measure.font = font; return measure.measureText(s).width; };

  // shaded row bands behind each row of panels
  ROWS.forEach((top, r) => {
    el.push({
      type: 'rect', z: -10, silent: true,
      shape: { x: 150, y: top, width: 898, height: PH, r: [0, 24, 24, 0] },
      style: { fill: '#f2f2f2', stroke: '#a9a9a9', lineWidth: 1 },
    });
    el.push({
      type: 'text', x: 1013, y: top + PH / 2, rotation: Math.PI / 2, z: 100, silent: true,
      style: { text: 't = 11 hours', font: `20px ${FONT}`, fill: '#9a9a9a', align: 'center', verticalAlign: 'middle', textAlign: 'center', textVerticalAlign: 'middle' },
    });
    el.push({
      type: 'text', x: 1037, y: top + PH / 2, rotation: Math.PI / 2, z: 100, silent: true,
      style: { text: rowTags[r], font: `11px ${FONT}`, fill: '#9a9a9a', align: 'center', verticalAlign: 'middle', textAlign: 'center', textVerticalAlign: 'middle' },
    });
  });

  // panel titles
  panels.forEach((p, gi) => {
    const r = Math.floor(gi / 5);
    const c = gi % 5;
    text(COLS[c] + PW / 2, ROWS[r] - 19, p.title, `19.5px ${FONT}`, { align: 'center', textAlign: 'center' });
  });

  // configuration table
  text(538, 17, 'Alternative configuration of the 2FSCM', `bold 19px ${LATO}`, { align: 'center', textAlign: 'center' });
  el.push({ type: 'rect', z: 100, silent: true, shape: { x: 92, y: 40, width: 893, height: 150 }, style: { fill: 'transparent', stroke: '#333', lineWidth: 1 } });
  const colX = [265, 341, 418, 494, 571, 649, 726, 800, 874, 947];
  text(108, 103, 'Original', `20px ${LATO}`);
  text(108, 172, 'Alternative', `20px ${LATO}`);
  colX.forEach((cx, i) => {
    const scriptBase = paramBase[i] === 'ℱ';
    text(cx - 7, scriptBase ? 60 : 62, paramBase[i], scriptBase ? `23px ${FONT}` : `italic 21px ${LATO}`, { align: 'right', textAlign: 'right' });
    text(cx - 6, 51, paramSup[i], `14px ${LATO}`);
    if (paramSubVar[i]) {
      text(cx - 6, 69, paramSubVar[i], `italic 14px ${LATO}`);
      text(cx - 6 + widthOf(paramSubVar[i], `italic 14px ${LATO}`), 69, paramSubIdx[i], `14px ${LATO}`);
    } else if (paramSubIdx[i]) {
      text(cx - 5, 69, paramSubIdx[i], `14px ${LATO}`);
    }
    text(cx, 103, originalValues[i], `20px ${LATO}`, { align: 'center', textAlign: 'center' });
    text(cx, 139, '↓', `20px ${FONT}`, { align: 'center', textAlign: 'center' });
    text(cx, 172, alternativeValues[i], `20px ${LATO}`, { align: 'center', textAlign: 'center' });
  });

  // ---------------- legend ----------------
  const LF = `18px ${FONT}`;
  const SUPF = `italic 12px ${FONT}`;
  const hLine = (x1: number, x2: number, y: number, stroke: string, w: number, dash?: number[]) => {
    el.push({ type: 'line', z: 100, silent: true, shape: { x1, y1: y, x2, y2: y }, style: { stroke, lineWidth: w, lineDash: dash || null } });
  };
  const patch = (x: number, y: number, w: number, fill: any, stroke: string | null) => {
    el.push({ type: 'rect', z: 100, silent: true, shape: { x, y: y - 6.5, width: w, height: 13 }, style: { fill, stroke, lineWidth: stroke ? 1.5 : 0 } });
  };
  const DASH = [16, 7];

  text(149, 1144, 'Fluid properties', LF);
  hLine(149, 347, 1180, '#000', 2);
  const fluidY = [1197, 1224, 1250, 1277, 1303, 1330];
  hLine(90, 131, fluidY[0], NAVY, 4);
  hLine(90, 131, fluidY[1], RED, 4);
  patch(93, fluidY[2], 35, 'rgba(0, 0, 139, 0.33)', null);
  patch(93, fluidY[3], 35, 'rgba(255, 85, 85, 0.33)', null);
  hLine(90, 131, fluidY[4], NAVY, 4, DASH);
  hLine(90, 131, fluidY[5], RED, 4, DASH);
  ['LES Fluid 1 Mean', 'LES Fluid 2 Mean', 'LES fluid 1 ± st. dev.', 'LES fluid 2 ± st. dev.', '2FSCM Fluid 1 Mean', '2FSCM Fluid 2 Mean']
    .forEach((t, i) => text(149, fluidY[i], t, LF));

  text(441, 1144, 'Relabelling processes', LF);
  hLine(441, 647, 1180, '#000', 2);
  const relY = [1197, 1228, 1262, 1298, 1333, 1366];
  hLine(382, 420, relY[0], '#000', 4);
  hLine(382, 420, relY[1], '#000', 4, DASH);
  patch(384, relY[2], 35, '#99d699', '#1e8c1e');
  patch(384, relY[3], 35, makePattern('#4e6cff', '#c6d0ff', 'circle'), '#1f3cff');
  patch(384, relY[4], 35, makePattern('#ff66ff', '#ffb8ff', 'circle'), '#ee00ee');
  patch(384, relY[5], 35, makePattern('#ff6b6b', '#e01e1e', 'hatch'), '#ff2020');
  const mathPrefix = (y: number, lead: string, sup: string | null, tail: string | null) => {
    const w0 = widthOf(lead, LF);
    text(441, y, lead, LF);
    const wm = widthOf('ℳ', LF);
    text(441 + w0, y, 'ℳ', LF);
    const sx = 441 + w0 + wm + 1;
    if (sup) {
      text(sx, y - 7, sup, SUPF);
      text(sx, y + 6, 'ij', SUPF);
    } else {
      text(sx, y + 5, 'ij', SUPF);
      if (tail) text(sx + widthOf('ij', SUPF) + 1, y, tail, LF);
    }
  };
  mathPrefix(relY[0], 'LES ', null, ' (Diagnosed)');
  mathPrefix(relY[1], '2FSCM ', null, null);
  mathPrefix(relY[2], '2FSCM ', 'FRC', null);
  mathPrefix(relY[3], '2FSCM ', 'MIC', null);
  mathPrefix(relY[4], '2FSCM ', 'MIX', null);
  mathPrefix(relY[5], '2FSCM ', 'INS', null);

  text(735, 1144, 'Total Fluxes', LF);
  hLine(735, 985, 1180, '#000', 2);
  const fluxY = [1197, 1223, 1250, 1277];
  hLine(682, 722, fluxY[0], '#000', 4, DASH);
  hLine(682, 722, fluxY[1], GREY, 4, DASH);
  hLine(682, 722, fluxY[2], '#000', 4);
  hLine(682, 722, fluxY[3], GREY, 4);
  ['2FSCM Total Resolved Flux', '2FSCM Total Flux', 'LES Total Resolved Flux', 'LES Total Flux']
    .forEach((t, i) => text(735, fluxY[i], t, LF));

  return {
    animation: false,
    backgroundColor: '#ffffff',
    textStyle: { fontFamily: FONT },
    grid: grids,
    xAxis: xAxes,
    yAxis: yAxes,
    series,
    graphic: { elements: el },
  };
}

export default function App() {
  const ref = useRef<HTMLDivElement>(null);
  useEffect(() => {
    if (!ref.current) return undefined;
    const chart = echarts.init(ref.current, undefined, { renderer: 'svg' });
    chart.setOption(buildOption() as any);
    return () => chart.dispose();
  }, []);
  return (
    <div
      ref={ref}
      style={{ position: 'absolute', left: 0, top: 0, width: 1051, height: 1380, background: '#ffffff' }}
    />
  );
}
